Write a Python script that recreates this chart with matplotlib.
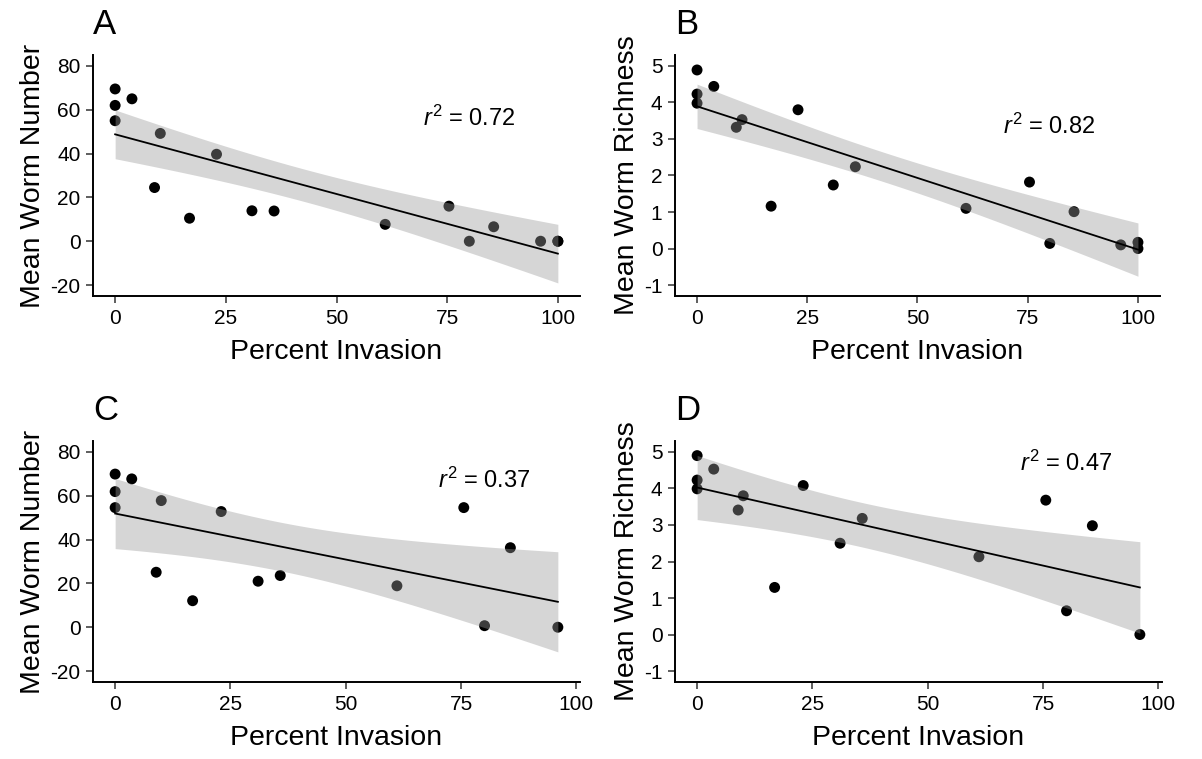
import numpy as np
import matplotlib
matplotlib.use("Agg")
import matplotlib.pyplot as plt

plt.rcParams["font.family"] = ["Liberation Sans", "DejaVu Sans"]
plt.rcParams["mathtext.fontset"] = "custom"
plt.rcParams["mathtext.rm"] = "Liberation Sans"
plt.rcParams["mathtext.it"] = "Liberation Sans:italic"
plt.rcParams["axes.unicode_minus"] = False

# Percent invasion per site (top row has two extra sites at 100 %)
invasion_top = [0, 0, 0, 3.8, 8.9, 10.2, 16.8, 22.9, 30.9, 35.9, 61.0, 75.4, 80.0, 85.5, 96.1, 100, 100]
invasion_bottom = [0, 0, 0, 3.6, 8.9, 10.0, 16.8, 23.0, 31.0, 35.8, 61.1, 75.6, 80.1, 85.7, 96.0]

# A: mean worm number
number_a = [69.5, 62, 55, 65, 24.5, 49.2, 10.5, 39.7, 13.9, 13.8, 7.7, 16.0, 0.0, 6.6, 0.0, 0.0, 0.0]
# B: mean worm richness
richness_b = [4.89, 4.23, 3.98, 4.44, 3.32, 3.53, 1.16, 3.80, 1.74, 2.24, 1.10, 1.82, 0.14, 1.01, 0.10, 0.17, 0.0]
# C: mean worm number
number_c = [69.9, 61.9, 54.6, 67.7, 25.1, 57.8, 12.1, 52.8, 21.0, 23.6, 18.9, 54.6, 0.7, 36.3, 0.0]
# D: mean worm richness
richness_d = [4.90, 4.23, 3.99, 4.53, 3.41, 3.80, 1.29, 4.08, 2.50, 3.18, 2.13, 3.68, 0.65, 2.98, 0.0]

r2_labels = ["0.72", "0.82", "0.37", "0.47"]
panel_letters = ["A", "B", "C", "D"]

# t quantiles (0.975) for the residual degrees of freedom
t975 = {13: 2.160, 15: 2.131}


def lm_band(x, y, n_grid=80):
    x = np.asarray(x, float)
    y = np.asarray(y, float)
    n = len(x)
    slope, intercept = np.polyfit(x, y, 1)
    resid = y - (intercept + slope * x)
    s = np.sqrt(np.sum(resid ** 2) / (n - 2))
    xg = np.linspace(x.min(), x.max(), n_grid)
    yg = intercept + slope * xg
    se = s * np.sqrt(1 / n + (xg - x.mean()) ** 2 / np.sum((x - x.mean()) ** 2))
    t = t975[n - 2]
    return xg, yg, yg - t * se, yg + t * se


fig = plt.figure(figsize=(12.02, 7.59), dpi=100)
W, H = 1202, 759


def add_axes(left, top, right, bottom):
    return fig.add_axes([left / W, 1 - bottom / H, (right - left) / W, (bottom - top) / H])


axes = [
    add_axes(93, 55, 580, 296),
    add_axes(675, 55, 1160, 296),
    add_axes(93, 441, 580, 682),
    add_axes(675, 441, 1162, 682),
]

panels = [
    (invasion_top, number_a, "Mean Worm Number", (-25, 85), [-20, 0, 20, 40, 60, 80], (80, 56)),
    (invasion_top, richness_b, "Mean Worm Richness", (-1.3, 5.3), [-1, 0, 1, 2, 3, 4, 5], (80, 3.35)),
    (invasion_bottom, number_c, "Mean Worm Number", (-25, 85), [-20, 0, 20, 40, 60, 80], (80, 67)),
    (invasion_bottom, richness_d, "Mean Worm Richness", (-1.3, 5.3), [-1, 0, 1, 2, 3, 4, 5], (80, 4.7)),
]

for i, (ax, (x, y, ylab, ylim, yticks, r2pos)) in enumerate(zip(axes, panels)):
    ax.scatter(x, y, s=62, color="black", edgecolors="none", zorder=2)
    xg, yg, lo, hi = lm_band(x, y)
    ax.fill_between(xg, lo, hi, color="#999999", alpha=0.4, linewidth=0, zorder=3)
    ax.plot(xg, yg, color="black", linewidth=1.3, zorder=4)

    xmax = max(x)
    pad = 0.05 * xmax
    ax.set_xlim(-pad, xmax + pad)
    ax.set_ylim(*ylim)
    ax.set_xticks([0, 25, 50, 75, 100])
    ax.set_yticks(yticks)

    for side in ["top", "right"]:
        ax.spines[side].set_visible(False)
    for side in ["left", "bottom"]:
        ax.spines[side].set_linewidth(1.4)
        ax.spines[side].set_color("black")
    ax.tick_params(length=5, width=1.1, color="#333333", labelsize=15, pad=4, labelcolor="black")

    ax.set_xlabel("Percent Invasion", fontsize=20.5, labelpad=8)
    ax.set_ylabel(ylab, fontsize=20.5, labelpad=3)

    ax.text(r2pos[0], r2pos[1], r"$r^2$ = %s" % r2_labels[i], fontsize=17,
            ha="center", va="center")
    ax.text(0.0, 1.06, panel_letters[i], transform=ax.transAxes, fontsize=25,
            ha="left", va="bottom")

fig.savefig("out.png", dpi=100)
